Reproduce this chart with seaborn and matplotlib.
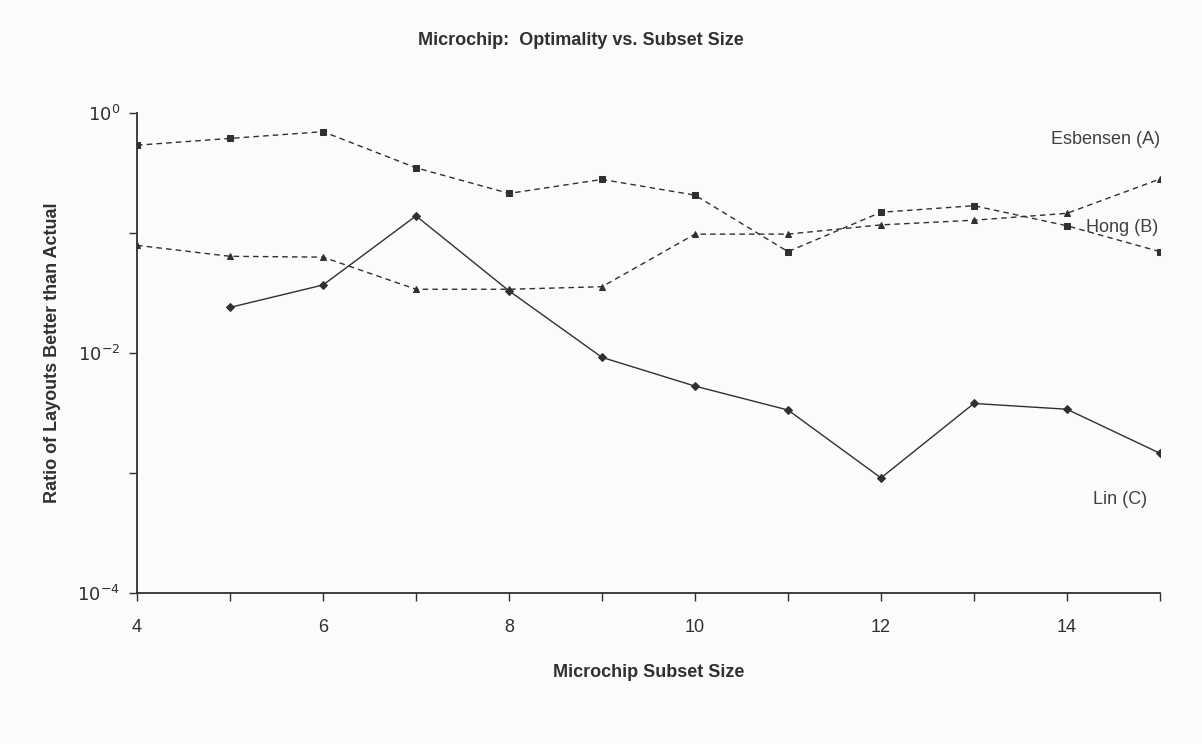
import numpy as np
import pandas as pd
import matplotlib
matplotlib.use("Agg")
import matplotlib.pyplot as plt
import matplotlib.ticker as mticker
import seaborn as sns

# data
subset_size = [4, 5, 6, 7, 8, 9, 10, 11, 12, 13, 14, 15]
esbensen = [0.079, 0.064, 0.063, 0.034, 0.034, 0.0357, 0.098, 0.098, 0.117, 0.128, 0.146, 0.282]
hong = [0.54, 0.615, 0.70, 0.35, 0.214, 0.28, 0.207, 0.070, 0.149, 0.169, 0.115, 0.070]
lin_size = [5, 6, 7, 8, 9, 10, 11, 12, 13, 14, 15]
lin = [0.024, 0.0369, 0.139, 0.033, 0.0092, 0.0053, 0.00335, 0.00091, 0.0038, 0.0034, 0.00146]

df = pd.concat([
    pd.DataFrame({"size": subset_size, "ratio": esbensen, "method": "Esbensen (A)"}),
    pd.DataFrame({"size": subset_size, "ratio": hong, "method": "Hong (B)"}),
    pd.DataFrame({"size": lin_size, "ratio": lin, "method": "Lin (C)"}),
])

sns.set_style("white")
plt.rcParams["font.family"] = ["Liberation Sans", "DejaVu Sans"]

bg = "#fbfbfb"
ink = "#303030"
W, H = 1202, 744
fig = plt.figure(figsize=(W / 100, H / 100), dpi=100, facecolor=bg)
ax = fig.add_axes([0.114, 0.203, 0.851, 0.645], facecolor=bg)

sns.lineplot(
    data=df, x="size", y="ratio", style="method", ax=ax,
    color=ink, linewidth=1.0, legend=False,
    markers={"Esbensen (A)": "^", "Hong (B)": "s", "Lin (C)": "D"},
    dashes={"Esbensen (A)": (4, 3), "Hong (B)": (4, 3), "Lin (C)": ""},
    markersize=4.5, markeredgecolor=ink, markerfacecolor=ink,
)

major = {1e-4: "$10^{-4}$", 1e-2: "$10^{-2}$", 1.0: "$10^{0}$"}


def fmt(v, pos):
    for t, s in major.items():
        if abs(np.log10(v) - np.log10(t)) < 0.01:
            return s
    return ""


ax.set_yscale("log")
ax.set_xlim(4, 15)
ax.set_ylim(1e-4, 1)
ax.set_yticks([1e-4, 1e-3, 1e-2, 1e-1, 1])
ax.yaxis.set_major_formatter(mticker.FuncFormatter(fmt))
ax.yaxis.set_minor_locator(mticker.NullLocator())
ax.set_xticks(range(4, 16))
ax.set_xticklabels([str(v) if v % 2 == 0 else "" for v in range(4, 16)])

for s in ["top", "right"]:
    ax.spines[s].set_visible(False)
for s in ["left", "bottom"]:
    ax.spines[s].set_color(ink)
    ax.spines[s].set_linewidth(1.3)
ax.tick_params(axis="both", direction="out", length=6, width=1, color=ink,
               labelsize=13, labelcolor=ink, left=True, bottom=True)
ax.tick_params(axis="x", pad=13)
ax.tick_params(axis="y", pad=6)
ax.grid(False)

ax.set_xlabel("Microchip Subset Size", fontsize=13, fontweight="bold", color=ink, labelpad=20)
ax.set_ylabel("Ratio of Layouts Better than Actual", fontsize=13, fontweight="bold", color=ink, labelpad=12)
fig.text(0.483, 0.945, "Microchip:  Optimality vs. Subset Size", ha="center", va="center",
         fontsize=13, fontweight="bold", color=ink)

labels = [("Esbensen (A)", 1160, 140), ("Hong (B)", 1158, 228), ("Lin (C)", 1147, 500)]
for txt, px, py in labels:
    fig.text(px / W, 1 - py / H, txt, ha="right", va="center", fontsize=13, color="#404040")

fig.savefig("out.png", dpi=100, facecolor=bg)
